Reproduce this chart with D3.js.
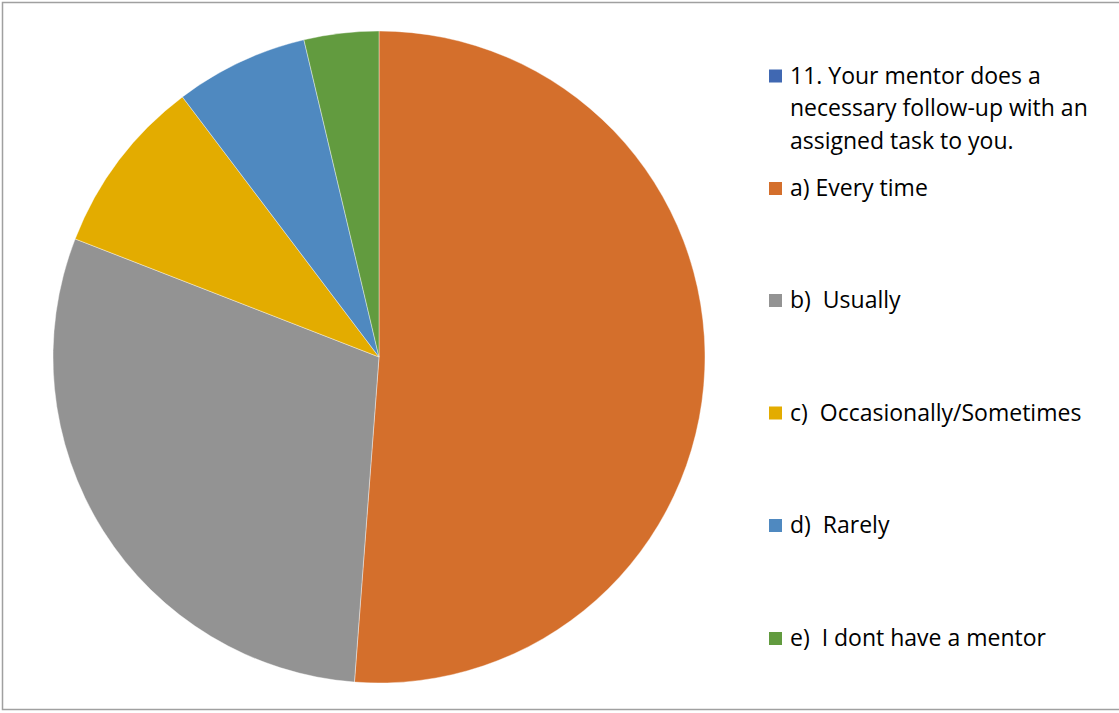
<!DOCTYPE html>
<html>
<head>
<meta charset="utf-8">
<script src="https://cdn.jsdelivr.net/npm/d3@7"></script>
<style>
  body { margin: 0; background: #fff; }
  svg { display: block; }
  text { white-space: pre; }
</style>
</head>
<body>
<script>
// survey answers in percent (header row is a zero-value series)
var labels = [
  "11. Your mentor does a necessary follow-up with an assigned task to you.",
  "a) Every time",
  "b)  Usually",
  "c)  Occasionally/Sometimes",
  "d)  Rarely",
  "e)  I dont have a mentor"
];
var values = [0, 51.2, 29.7, 8.8, 6.6, 3.7];
var colors = ["#4068B2", "#D46F2C", "#939393", "#E3AC00", "#4F89C0", "#629B3F"];
// header text wrapped as in the original legend
var headerLines = ["11. Your mentor does a", "necessary follow-up with an", "assigned task to you."];

function init() {
  var w = 1119, h = 713;
  var cx = 379, cy = 357, r = 326;

  var svg = d3.select("body").append("svg")
    .attr("width", w)
    .attr("height", h);

  // outer frame
  svg.append("rect")
    .attr("x", 2.5).attr("y", 2.5)
    .attr("width", w + 10).attr("height", h - 3.5 - 2.5)
    .attr("fill", "#fff")
    .attr("stroke", "#A0A0A0")
    .attr("stroke-width", 1.5);

  var data = values.map(function(v, i) { return { label: labels[i], value: v, color: colors[i] }; });

  var pie = d3.pie().sort(null).value(function(d) { return d.value; });
  var arc = d3.arc().innerRadius(0).outerRadius(r);

  var g = svg.append("g").attr("transform", "translate(" + cx + "," + cy + ")");
  g.selectAll("path")
    .data(pie(data).filter(function(d) { return d.data.value > 0; }))
    .enter()
    .append("path")
    .attr("d", arc)
    .attr("fill", function(d) { return d.data.color; })
    .attr("stroke", "#fff")
    .attr("stroke-width", 0.4);

  // legend
  var legendY = [76, 188.5, 300.5, 413, 525.5, 638.5];
  var lg = svg.append("g").attr("font-family", "'Open Sans', sans-serif").attr("font-size", "23px").attr("fill", "#000");

  var items = lg.selectAll("g.item")
    .data(data)
    .enter()
    .append("g")
    .attr("class", "item")
    .attr("transform", function(d, i) { return "translate(769," + legendY[i] + ")"; });

  items.append("rect")
    .attr("x", 0).attr("y", -6.5)
    .attr("width", 13).attr("height", 13)
    .attr("fill", function(d) { return d.color; });

  items.each(function(d, i) {
    var t = d3.select(this).append("text").attr("x", 21).attr("y", 7.5);
    var lines = i === 0 ? headerLines : [d.label];
    lines.forEach(function(line, j) {
      t.append("tspan").attr("x", 21).attr("dy", j === 0 ? 0 : 32.5).text(line);
    });
  });
}
window.onload = init;
</script>
</body>
</html>
